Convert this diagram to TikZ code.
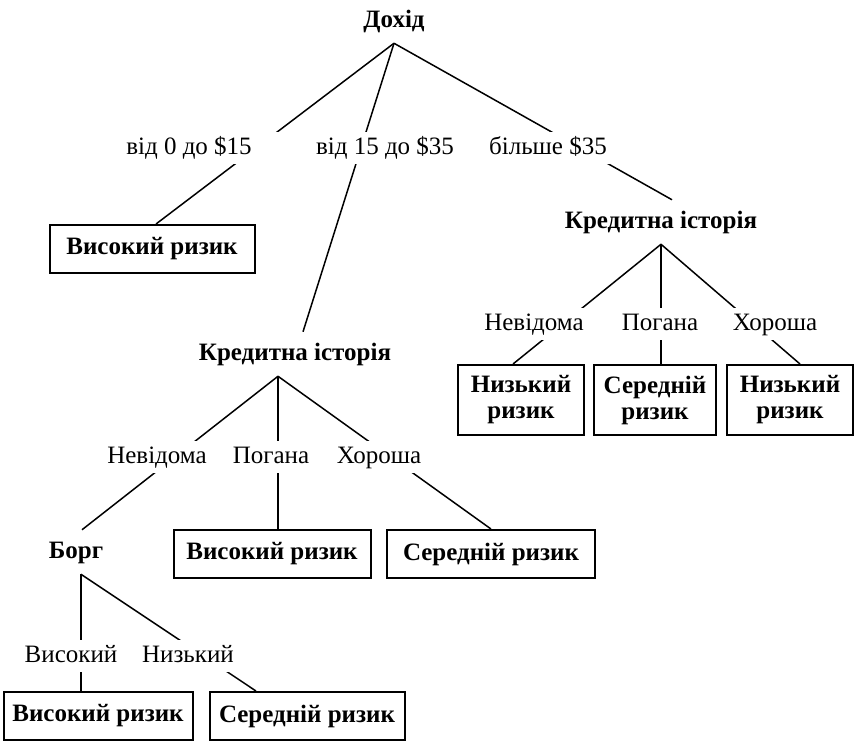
\documentclass[tikz,border=0pt]{standalone}
\usepackage{fontspec}
\setmainfont{Liberation Serif}
\usepackage{tikz}

\begin{document}
\begin{tikzpicture}[x=0.5pt,y=-0.5pt,line width=0.75pt,
  attr/.style={font=\fontsize{12.5}{13}\selectfont\bfseries,inner sep=5pt,text height=9pt,text depth=2.5pt},
  cond/.style={font=\fontsize{12.5}{13}\selectfont,fill=white,inner xsep=1.5pt,inner ysep=0pt,minimum height=16pt,text height=9pt,text depth=3pt},
  riskbox/.style={draw,line width=1pt,font=\fontsize{12.5}{13}\selectfont\bfseries,align=center,inner sep=0pt,minimum height=24pt}]
\useasboundingbox (0,0) rectangle (855,741);

% attributes and leaves
\node [attr] (income) at (394,21) {Дохід};
\node [riskbox,minimum width=102.5pt] (high1) at (152,249) {Високий ризик};
\node [attr] (hist2) at (661,222) {Кредитна історія};
\node [riskbox,minimum width=63pt,minimum height=35pt] (low1) at (521,400) {Низький\\ризик};
\node [riskbox,minimum width=61pt,minimum height=35pt] (mid1) at (655,400) {Середній\\ризик};
\node [riskbox,minimum width=63pt,minimum height=35pt] (low2) at (790,400) {Низький\\ризик};
\node [attr] (hist1) at (295,354) {Кредитна історія};
\node [riskbox,minimum width=98.5pt] (high2) at (272,554) {Високий ризик};
\node [riskbox,minimum width=104pt] (mid2) at (491,554) {Середній ризик};
\node [attr] (debt) at (76,552) {Борг};
\node [riskbox,minimum width=94.5pt] (high3) at (98,716) {Високий ризик};
\node [riskbox,minimum width=97.5pt] (mid3) at (307,716) {Середній ризик};

% branches
\draw (income.south) -- ([xshift=2pt]high1.north);
\draw (income.south) -- ([xshift=4pt]hist1.north);
\draw (income.south) -- ([xshift=5.5pt]hist2.north);
\draw (hist2.south) -- ([xshift=-4pt]low1.north);
\draw (hist2.south) -- (hist2.south |- mid1.north);
\draw (hist2.south) -- ([xshift=5pt]low2.north);
\coordinate (hist1 a) at ([xshift=-8.5pt]hist1.south);
\draw (hist1 a) -- ([xshift=3pt]debt.north);
\draw (hist1 a) -- (hist1 a |- high2.north);
\draw (hist1 a) -- (mid2.north);
\coordinate (debt a) at ([xshift=2.5pt]debt.south);
\draw (debt a) -- (debt a |- high3.north);
\draw (debt a) -- ([xshift=-25.5pt]mid3.north);

% branch values
\node [cond,minimum width=90pt] (inc0) at (189,148) {від 0 до \$15};
\node [cond] (inc15) at (385,148) {від 15 до \$35};
\node [cond] (inc35) at (548,148) {більше \$35};
\node [cond] (h2unk) at (534,324) {Невідома};
\node [cond] (h2bad) at (660,324) {Погана};
\node [cond] (h2good) at (775,324) {Хороша};
\node [cond] (h1unk) at (157,457) {Невідома};
\node [cond] (h1bad) at (271,457) {Погана};
\node [cond] (h1good) at (379,457) {Хороша};
\node [cond] (debthi) at (71,656) {Високий};
\node [cond] (debtlo) at (188,656) {Низький};
\end{tikzpicture}
\end{document}
